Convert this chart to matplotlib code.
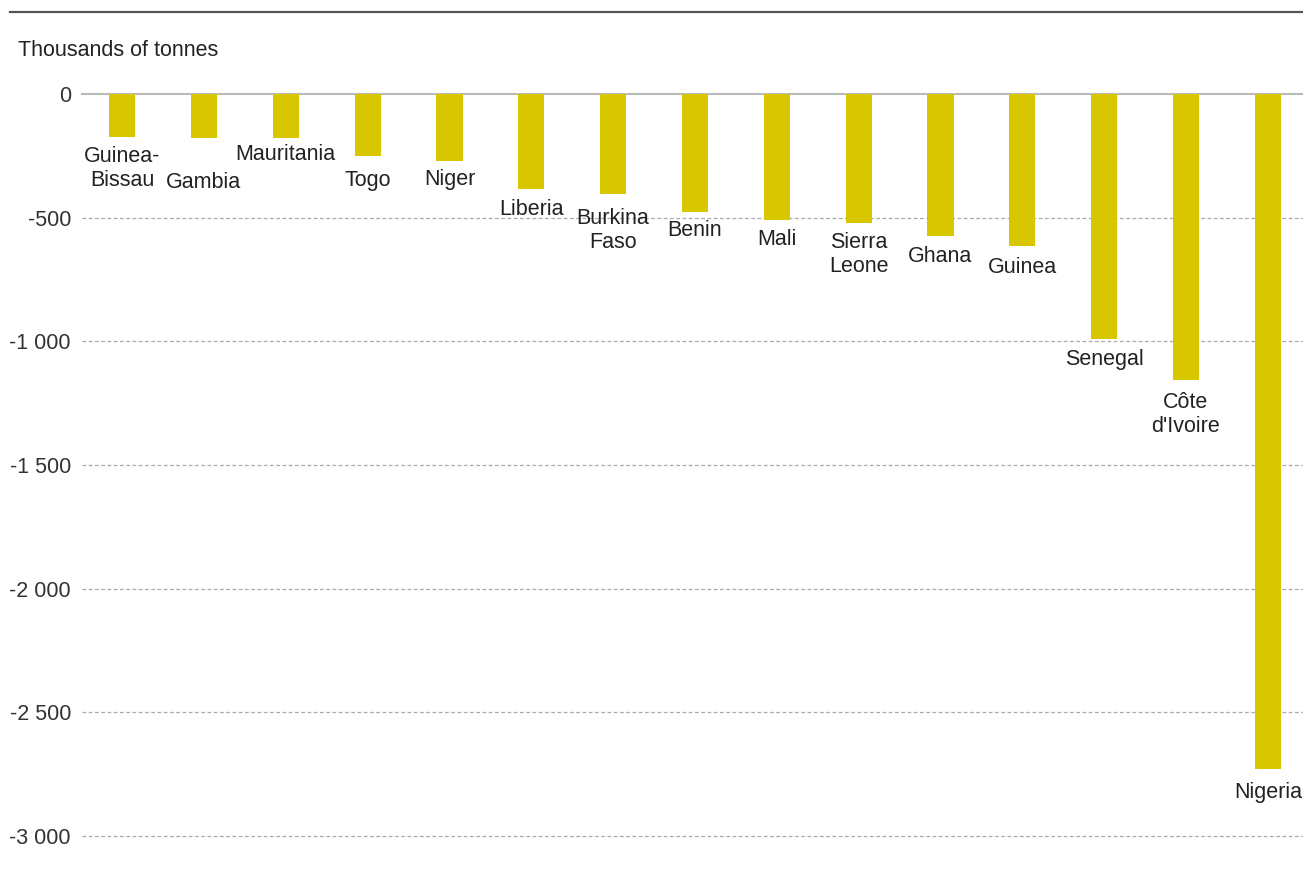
import matplotlib.pyplot as plt

# Data (thousands of tonnes)
countries = ['Guinea-\nBissau', 'Gambia', 'Mauritania', 'Togo', 'Niger', 'Liberia',
             'Burkina\nFaso', 'Benin', 'Mali', 'Sierra\nLeone', 'Ghana', 'Guinea',
             'Senegal', "Côte\nd'Ivoire", 'Nigeria']
values = [-173, -177, -177, -249, -269, -386, -406, -478, -510, -522, -575, -615,
          -989, -1158, -2729]
# label distance below bar end (pixels)
label_gap = [32, 45, 17, 25, 19, 20, 36, 18, 19, 31, 20, 21, 21, 34, 24]
yticks = [0, -500, -1000, -1500, -2000, -2500, -3000]
ytick_labels = ['0', '-500', '-1 000', '-1 500', '-2 000', '-2 500', '-3 000']

plt.rcParams['font.family'] = ['Liberation Sans', 'DejaVu Sans']
FS = 15.5

fig = plt.figure(figsize=(13.03, 8.69), dpi=100)
ax = fig.add_axes([82 / 1303, 1 - 836 / 869, 1 - 82 / 1303, (836 - 94) / 869])

x = list(range(len(countries)))
ax.bar(x, values, width=0.32, color='#D8C700', zorder=3)

for xi, v, name, gap in zip(x, values, countries, label_gap):
    ax.annotate(name, (xi, v), xytext=(0, -gap), textcoords='offset pixels',
                ha='center', va='center', fontsize=FS, color='#222222',
                linespacing=1.2, annotation_clip=False, zorder=4)

ax.set_xlim(-0.49, 14.43)
ax.set_ylim(-3000, 0)
ax.set_yticks(yticks)
ax.set_yticklabels(ytick_labels)
ax.set_xticks([])
ax.tick_params(axis='y', length=0, pad=8, labelsize=FS, labelcolor='#333333')

for s in ax.spines.values():
    s.set_visible(False)

# gridlines
for t in yticks[1:]:
    ax.axhline(t, color='#AAAAAA', linestyle=(0, (3, 2)), linewidth=0.9, zorder=1,
               clip_on=False)
ax.axhline(0, color='#BBBBBB', linewidth=1.5, zorder=2, clip_on=False)

# top rule and unit label
fig.add_artist(plt.Line2D([10 / 1303, 1], [1 - 12 / 869] * 2, color='#555555', linewidth=1.6))
fig.text(18 / 1303, 1 - 50 / 869, 'Thousands of tonnes', fontsize=FS, color='#222222',
         ha='left', va='center')

fig.savefig('out.png', dpi=100)
